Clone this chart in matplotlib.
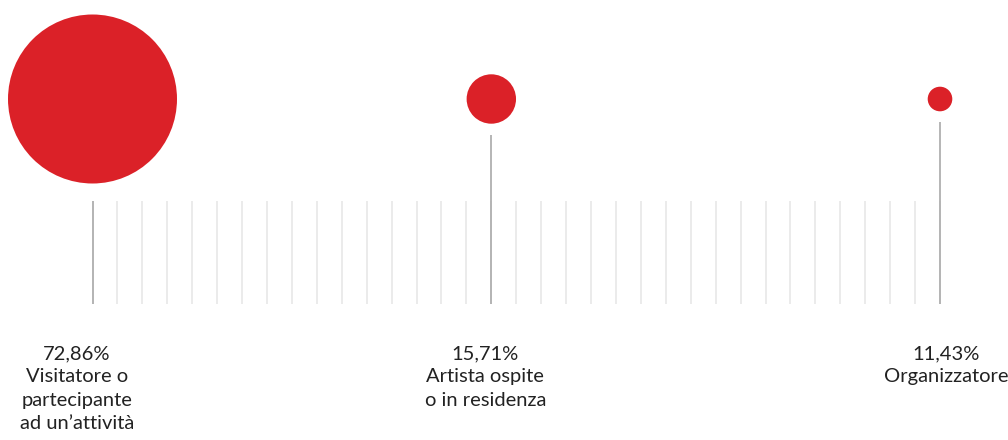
import numpy as np
import matplotlib
matplotlib.use("Agg")
import matplotlib.pyplot as plt

# data
shares = [72.86, 15.71, 11.43]
labels = ["Visitatore o\npartecipante\nad un’attività",
          "Artista ospite\no in residenza",
          "Organizzatore"]
slots = [0, 16, 34]          # position on the 35-step track
n_ticks = 35

# style / layout (pixels)
red = "#db2128"
dot_y = 99
r_min, r_max = 12.3, 84.5     # radius scale, linear in log(share)
track_top, track_bottom = 201.5, 304.5
stem_gap = 11
label_dx = [-15.5, -6, 6]      # label nudges, px
label_top = 345

plt.rcParams["font.family"] = ["Lato", "DejaVu Sans"]

fig = plt.figure(figsize=(10.08, 4.4), dpi=100)
ax = fig.add_axes([0, 0, 1, 1])
px_per_slot = (940 - 92.5) / 34
ax.set_xlim(-92.5 / px_per_slot, (1008 - 92.5) / px_per_slot)
ax.set_ylim(440, 0)
ax.axis("off")

# light track lines
ticks = np.arange(n_ticks)
ax.vlines(ticks, track_top, track_bottom, color="#e6e6e6", lw=1.1, zorder=1)

# radius from share (log scale)
lv = np.log(shares)
radius = r_min + (r_max - r_min) * (lv - lv.min()) / (lv.max() - lv.min())

# stems
bottoms = dot_y + radius + stem_gap
stem_top = np.where(bottoms < track_top - 10, bottoms, track_top)
ax.vlines(slots, stem_top, track_bottom, color="#b0b0b0", lw=1.3, zorder=2)

# bubbles
sizes = (2 * radius * 72 / 100) ** 2
ax.scatter(slots, [dot_y] * len(slots), s=sizes, color=red, linewidths=0, zorder=3)

# labels
for x, v, lab, dx in zip(slots, shares, labels, label_dx):
    txt = f"{v:.2f}".replace(".", ",") + "%\n" + lab
    ax.text(x + dx / px_per_slot, label_top, txt, ha="center", va="top",
            fontsize=14.5, linespacing=1.45, color="#222222")

fig.savefig("out.png", dpi=100)
